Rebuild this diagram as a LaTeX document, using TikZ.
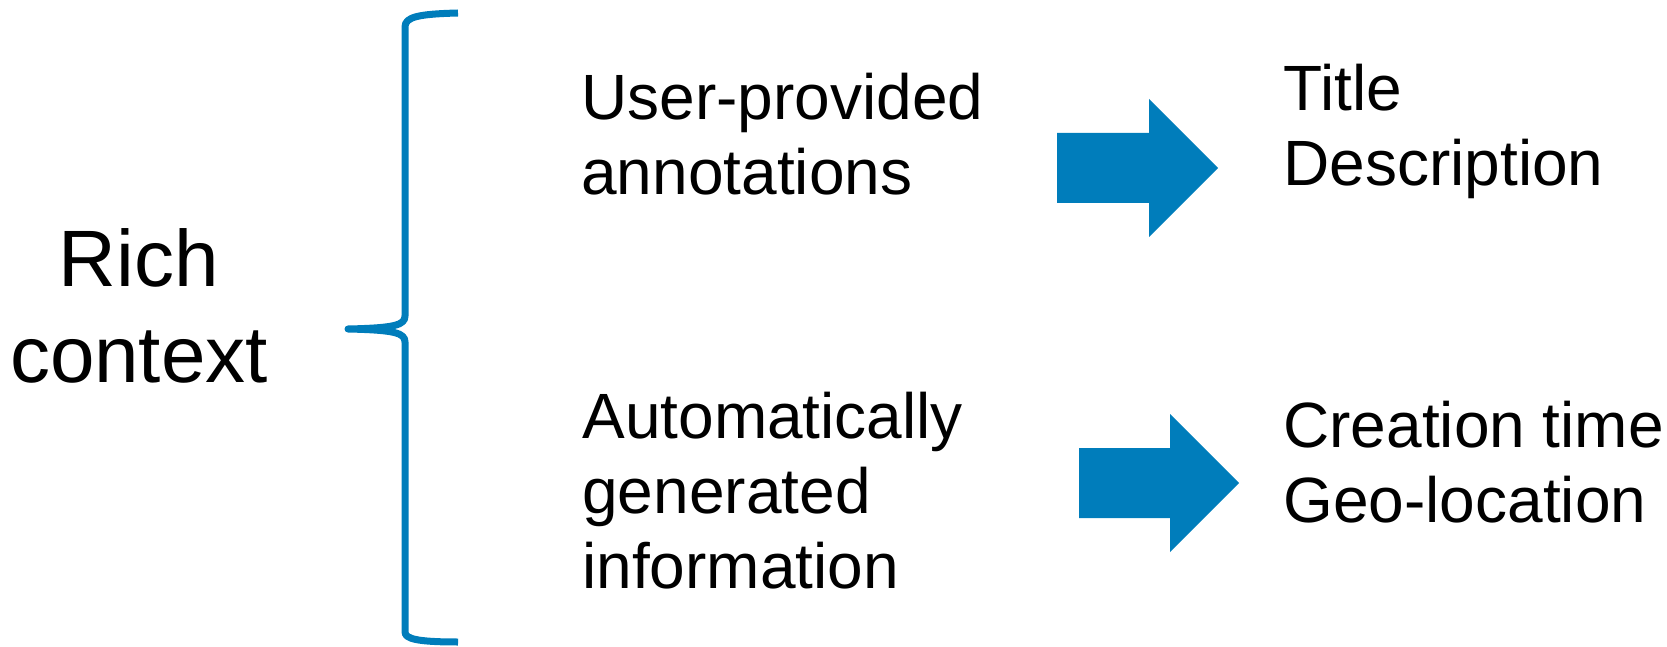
\documentclass[tikz,border=0pt]{standalone}
\usepackage{fontspec}
\setmainfont{Liberation Sans}
\definecolor{bracefill}{RGB}{0,125,187}
\begin{document}
\begin{tikzpicture}[x=0.5pt,y=-0.5pt,
  bigtext/.style={inner sep=0pt, align=center, anchor=base,
    font=\fontsize{40pt}{48pt}\selectfont},
  itemtext/.style={inner sep=0pt, align=left, anchor=base west,
    font=\fontsize{32pt}{37.5pt}\selectfont},
  bracket/.style={draw=bracefill, line width=3.5pt, line join=round},
  bigarrow/.style={fill=bracefill}]
\useasboundingbox (0,0) rectangle (1667,647);

% heading on the left (anchored at the baseline of its last line)
\node[bigtext] (rich) at (139,382) {Rich\\context};

% curly brace grouping the two sources
\draw[bracket] (458,13) .. controls (418,14) and (405,17) .. (405,27)
  -- (405,316) .. controls (405,325) and (395,328) .. (348,329)
  .. controls (395,330) and (405,333) .. (405,342)
  -- (405,632) .. controls (405,639) and (418,642) .. (458,642);

% sources
\node[itemtext] (user) at (581,195) {User-provided\\annotations};
\node[itemtext] (auto) at (582,588) {Automatically\\generated\\information};

% block arrows
\fill[bigarrow] (1057,133) -- (1149,133) -- (1149,99) -- (1218,168)
  -- (1149,237) -- (1149,203) -- (1057,203) -- cycle;
\fill[bigarrow] (1079,448) -- (1170,448) -- (1170,414) -- (1239,483)
  -- (1170,552) -- (1170,518) -- (1079,518) -- cycle;

% resulting fields
\node[itemtext] (title) at (1283,185) {Title\\Description};
\node[itemtext] (ctime) at (1283,522) {Creation time\\Geo-location};
\end{tikzpicture}
\end{document}
